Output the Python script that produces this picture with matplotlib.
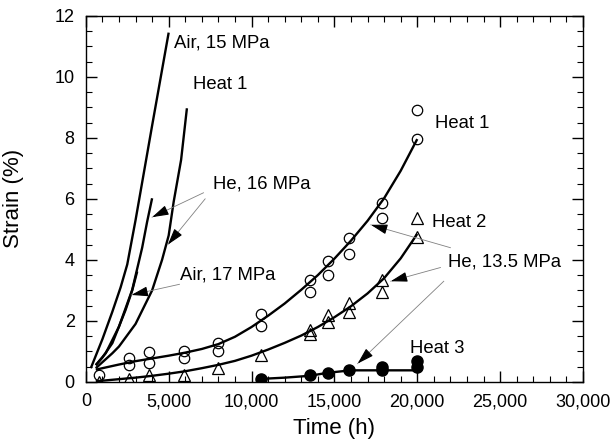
import numpy as np
import matplotlib
matplotlib.use("Agg")
import matplotlib.pyplot as plt
from matplotlib.ticker import MultipleLocator, FuncFormatter

plt.rcParams['font.family'] = ['Liberation Sans', 'DejaVu Sans']

# measured points, He 13.5 MPa
heat1_t = [800, 2600, 2600, 3800, 3800, 5900, 5900, 8000, 8000, 10600, 10600,
           13500, 13500, 14600, 14600, 15900, 15900, 17900, 17900, 20000, 20000]
heat1_strain = [0.23, 0.78, 0.54, 0.97, 0.63, 1.02, 0.78, 1.29, 1.02, 2.22, 1.84,
                3.34, 2.96, 3.98, 3.51, 4.71, 4.2, 5.86, 5.37, 8.92, 7.96]

heat2_t = [800, 2600, 3800, 5900, 8000, 10600, 13500, 13500, 14600, 14600,
           15900, 15900, 17900, 17900, 20000, 20000]
heat2_strain = [0.0, 0.1, 0.23, 0.23, 0.45, 0.89, 1.7, 1.56, 2.2, 1.95,
                2.58, 2.3, 3.34, 2.94, 5.37, 4.74]

heat3_t = [10600, 13500, 14600, 15900, 17900, 17900, 20000, 20000]
heat3_strain = [0.1, 0.22, 0.3, 0.38, 0.5, 0.4, 0.68, 0.5]

# fitted curves
fit_t = [600, 1000, 2000, 3000, 4000, 5000, 6000, 7000, 8000, 9000, 10000,
         11000, 12000, 13000, 14000, 15000, 16000, 17000, 18000, 19000, 20000]
fit1_s = [0.4, 0.45, 0.57, 0.68, 0.77, 0.86, 0.96, 1.08, 1.24, 1.48, 1.8,
          2.17, 2.57, 3.02, 3.5, 4.04, 4.63, 5.28, 6.02, 6.92, 7.96]
fit2_s = [0.02, 0.04, 0.09, 0.14, 0.2, 0.27, 0.35, 0.45, 0.56, 0.69, 0.86,
          1.06, 1.28, 1.52, 1.8, 2.12, 2.48, 2.9, 3.4, 4.05, 4.85]
fit3_t = [10600, 12000, 13500, 14600, 16000, 18000, 20000]
fit3_s = [0.1, 0.14, 0.2, 0.3, 0.38, 0.38, 0.38]

# continuous creep curves (left bundle)
air15_t = [300, 1000, 1600, 2100, 2500, 3000, 4000, 5000]
air15_s = [0.45, 1.4, 2.3, 3.1, 3.85, 5.3, 8.4, 11.45]
he16_t = [600, 1200, 2000, 2800, 3400, 3700, 4000]
he16_s = [0.55, 0.94, 1.81, 3.02, 4.4, 5.25, 6.02]
air17_t = [600, 1000, 1600, 2400, 2800, 3100]
air17_s = [0.55, 0.8, 1.27, 2.36, 3.0, 3.62]
he16h1_t = [600, 1600, 2000, 3000, 4000, 4600, 5000, 5300, 5750, 6100]
he16h1_s = [0.45, 0.94, 1.16, 1.9, 3.0, 4.0, 4.8, 5.9, 7.28, 8.97]

fig = plt.figure(figsize=(6.13, 4.4), dpi=100)
ax = fig.add_axes([0.140, 0.132, 0.811, 0.832])

lw = 1.7
for t, s in [(air15_t, air15_s), (he16_t, he16_s), (air17_t, air17_s), (he16h1_t, he16h1_s),
             (fit_t, fit1_s), (fit_t, fit2_s), (fit3_t, fit3_s)]:
    ax.plot(t, s, color='black', lw=lw, solid_capstyle='butt', solid_joinstyle='round')

ax.plot(heat1_t, heat1_strain, 'o', ms=7.5, mfc='none', mec='black', mew=0.9)
ax.plot(heat2_t, heat2_strain, '^', ms=8, mfc='none', mec='black', mew=0.9)
ax.plot(heat3_t, heat3_strain, 'o', ms=8, mfc='black', mec='black')

ax.set_xlim(0, 30000)
ax.set_ylim(0, 12)
ax.xaxis.set_major_locator(MultipleLocator(5000))
ax.xaxis.set_minor_locator(MultipleLocator(1000))
ax.yaxis.set_major_locator(MultipleLocator(2))
ax.yaxis.set_minor_locator(MultipleLocator(0.5))
ax.xaxis.set_major_formatter(FuncFormatter(lambda v, p: f'{int(v):,}'))
ax.tick_params(which='both', direction='in', top=True, right=True, labelsize=13)
ax.tick_params(which='major', length=8, width=1, pad=8)
ax.tick_params(which='minor', length=4.2, width=0.8)
for sp in ax.spines.values():
    sp.set_linewidth(1)
ax.set_xlabel('Time (h)', fontsize=16)
ax.set_ylabel('Strain (%)', fontsize=16)
ax.xaxis.set_label_coords(0.5, -0.098)
ax.yaxis.set_label_coords(-0.125, 0.5)

fs = 13.3
ax.text(5300, 11.1, 'Air, 15 MPa', fontsize=fs, va='center')
ax.text(6450, 9.75, 'Heat 1', fontsize=fs, va='center')
ax.text(7700, 6.5, 'He, 16 MPa', fontsize=fs, va='center')
ax.text(5700, 3.5, 'Air, 17 MPa', fontsize=fs, va='center')
ax.text(21050, 8.48, 'Heat 1', fontsize=fs, va='center')
ax.text(20900, 5.22, 'Heat 2', fontsize=fs, va='center')
ax.text(21850, 3.93, 'He, 13.5 MPa', fontsize=fs, va='center')
ax.text(19550, 1.11, 'Heat 3', fontsize=fs, va='center')

# pointer lines: start (near text) -> tip on curve
pointers = [((7100, 6.2), (4000, 5.4)),
            ((7200, 6.0), (4950, 4.5)),
            ((5650, 3.2), (2750, 2.85)),
            ((22000, 4.4), (17200, 5.15)),
            ((21400, 3.75), (18400, 3.3)),
            ((21600, 3.3), (16400, 0.6))]
fig.canvas.draw()
for start, tip in pointers:
    ax.plot([start[0], tip[0]], [start[1], tip[1]], color='gray', lw=0.6)
    p0 = ax.transData.transform(start)
    p1 = ax.transData.transform(tip)
    d = (p0 - p1) / np.hypot(*(p0 - p1))
    ax.annotate('', xy=tip, xytext=(d[0] * 15, d[1] * 15), textcoords='offset pixels',
                arrowprops=dict(arrowstyle='-|>,head_length=1.0,head_width=0.3',
                                color='black', lw=0.8, shrinkA=0, shrinkB=0))

fig.savefig('out.png', dpi=100)
